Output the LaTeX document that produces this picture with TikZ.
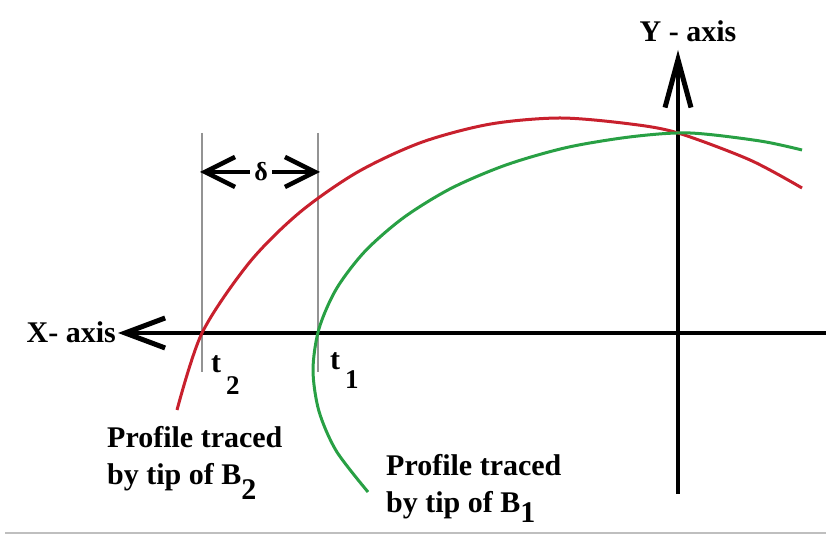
\documentclass[tikz,border=0pt]{standalone}
\usepackage{fontspec}
\setmainfont{Liberation Serif}
\usetikzlibrary{arrows.meta}
\tikzset{
  lbl/.style={font=\fontsize{30}{37}\selectfont\bfseries, inner sep=0pt},
  axisline/.style={line width=4pt, black},
  guide/.style={line width=2pt, gray!85},
  redc/.style={line width=3pt, color={rgb,255:red,200;green,32;blue,45}},
  greenc/.style={line width=3pt, color={rgb,255:red,40;green,160;blue,68}},
  xtip/.style={-{Straight Barb[length=40pt,width=30pt,line width=5pt]}},
  ytip/.style={-{Straight Barb[length=48pt,width=26pt,line width=5pt]}},
  dimtip/.style={{Straight Barb[length=30pt,width=30pt,line width=4.5pt]}-{Straight Barb[length=30pt,width=30pt,line width=4.5pt]}}
}
\begin{document}
\begin{tikzpicture}[x=1pt,y=1pt]
\useasboundingbox (0,0) rectangle (826,534);
% bottom border line
\coordinate (bl) at (5,1);
\coordinate (br) at (826,1);
\draw[line width=1.5pt, gray!50] (bl) -- (br);
% guide lines
\coordinate (g2t) at (202,401);
\coordinate (g2b) at (202,162);
\coordinate (g1t) at (318,401);
\coordinate (g1b) at (318,162);
\draw[guide] (g2t) -- (g2b);
\draw[guide] (g1t) -- (g1b);
% delta dimension
\coordinate (d2) at (200,362);
\coordinate (d1) at (320,362);
\draw[dimtip, line width=4pt] (d2) -- (d1);
\node[fill=white, inner sep=0pt, minimum width=22pt, minimum height=18pt, font=\fontsize{26}{26}\selectfont\bfseries] (delta) at (261,362) {δ};
% axes
\coordinate (xr) at (826,201);
\coordinate (xl) at (118,201);
\draw[axisline, xtip] (xr) -- (xl);
\coordinate (yb) at (678,40);
\coordinate (yt) at (678,484);
\draw[axisline, ytip] (yb) -- (yt);
% curves (pixel coordinates flipped: Y = 534 - y)
\draw[redc] plot[smooth] coordinates {
  (177,124) (202,201) (249,271) (299,321) (357,361.6)
  (421,391.5) (489.5,409.8) (560,416) (630.5,410) (678,401)
  (750,374) (802,346)};
\draw[greenc] plot[smooth] coordinates {
  (368,42) (336.3,83) (318.9,123) (313,164) (318.9,205) (336.3,245)
  (364.8,282.5) (403.5,316.3) (451,345.6) (506.5,369.2) (567.6,386.7)
  (632.8,397.4) (690,401) (760,393) (802,384)};
% labels
\node[lbl, anchor=base] (ylab) at (688,492) {Y - axis};
\node[lbl, anchor=base east] (xlab) at (116,191) {X- axis};
\node[lbl, anchor=base west] (t2) at (211,161) {t\,\raisebox{-22pt}{\fontsize{27}{27}\selectfont 2}};
\node[lbl, anchor=base west] (t1) at (330,164) {t\,\raisebox{-19pt}{\fontsize{27}{27}\selectfont 1}};
\node[lbl, anchor=base west, align=left] (p2) at (107,49) {Profile traced\\by tip of B\raisebox{-15pt}{2}};
\node[lbl, anchor=base west, align=left] (p1) at (386,21) {Profile traced\\by tip of B\raisebox{-10pt}{1}};
\end{tikzpicture}
\end{document}
